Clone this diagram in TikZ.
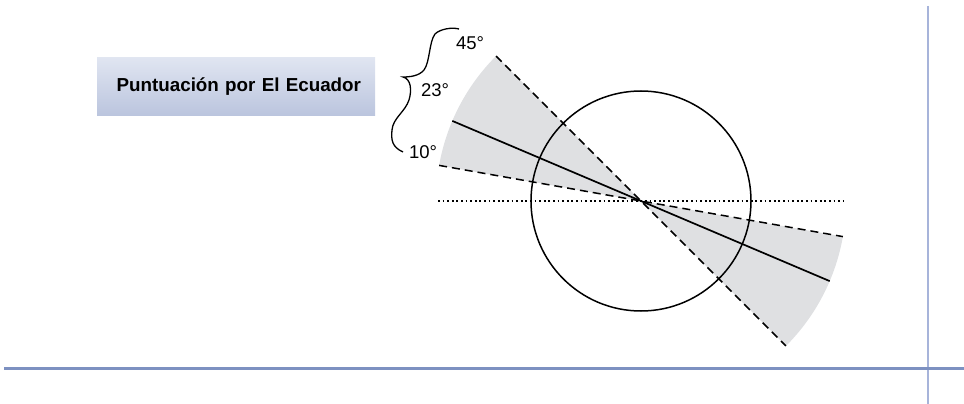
\documentclass[tikz,border=0pt]{standalone}
\usepackage{fontspec}
\setmainfont{Liberation Sans}
\definecolor{BoxTop}{HTML}{E0E5F1}
\definecolor{BoxBottom}{HTML}{BBC5DE}
\definecolor{RuleBlue}{HTML}{7D91C1}
\definecolor{RuleLight}{HTML}{A7B4DA}
\definecolor{WedgeGray}{HTML}{DFE0E2}
\usetikzlibrary{positioning}

\begin{document}
\begin{tikzpicture}[
  x=1pt, y=-1pt,
  titlebox/.style={
    rectangle,
    top color=BoxTop,
    bottom color=BoxBottom,
    minimum height=57pt,
    text width=250pt,
    align=right,
    inner xsep=14pt,
    font=\fontsize{18.8}{22}\selectfont\bfseries},
  anglabel/.style={
    inner sep=0pt,
    font=\fontsize{18.5}{20}\selectfont},
  solidray/.style={
    line width=1.7pt},
  dashray/.style={
    line width=1.5pt,
    dash pattern=on 8pt off 5pt},
  dotray/.style={
    line width=1.3pt,
    dash pattern=on 1.8pt off 2.8pt},
]

\useasboundingbox (0,0) rectangle (964,404);

\node[titlebox] (titulo) at (236,86.5) {Puntuación por El Ecuador};

% sectores sombreados
\begin{scope}[shift={(641,201)}]
  \coordinate (o) at (0,0);
  \foreach \ang/\nom in {190/a10, 225/a45, 203/a23, 10/b10, 45/b45, 23/b23}
    \coordinate (\nom) at (\ang:205);
  \fill[WedgeGray] (o) -- (a10) arc[start angle=190, end angle=225, radius=205] -- cycle;
  \fill[WedgeGray] (o) -- (b10) arc[start angle=10, end angle=45, radius=205] -- cycle;
\end{scope}

\coordinate (ecIzq) at (438,201);
\coordinate (ecDer) at (843,201);
\draw[dotray] (ecIzq) -- (ecDer);

\node[draw, circle, minimum size=220pt, inner sep=0pt, line width=1.5pt] (globo) at (o) {};

\draw[dashray] (a10) -- (b10);
\draw[dashray] (a45) -- (b45);
\draw[solidray] (a23) -- (b23);

% llave
\draw[line width=1.3pt]
  (459,29) .. controls (452,27) and (440,29) .. (435,34)
  .. controls (429,42) and (430,62) .. (424,70)
  .. controls (419,76) and (410,77) .. (403,77)
  .. controls (411,79) and (412,90) .. (409,100)
  .. controls (405,112) and (393,118) .. (392,130)
  .. controls (391,140) and (392,147) .. (403,152);

\node[anglabel] (g45) at (470,43) {45°};
\node[anglabel] (g23) at (435,90) {23°};
\node[anglabel] (g10) at (423,152) {10°};

% reglas
\coordinate (vTop) at (928,6);
\coordinate (vBot) at (928,404);
\coordinate (hIzq) at (4,368);
\coordinate (hDer) at (964,368);
\draw[RuleLight, line width=2.6pt] (vTop) -- (vBot);
\draw[RuleBlue, line width=3pt] (hIzq) -- (hDer);

\end{tikzpicture}
\end{document}
